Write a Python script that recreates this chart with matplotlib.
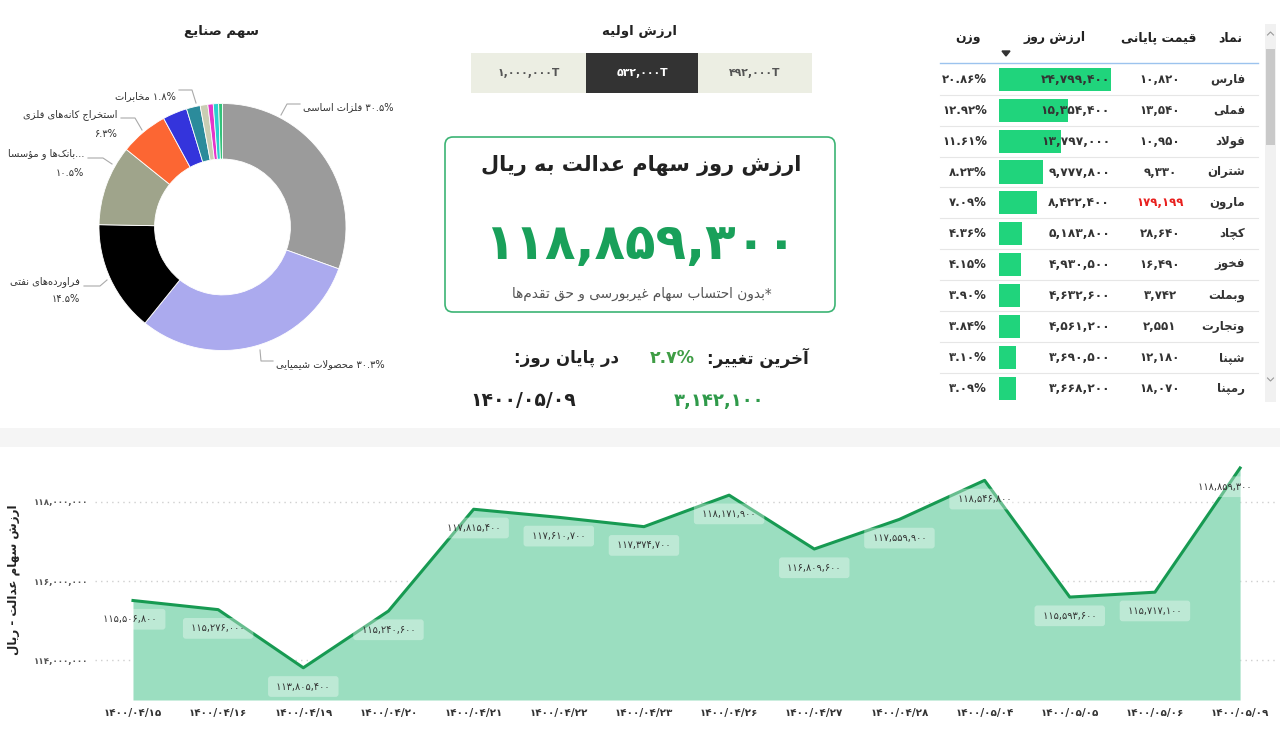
import matplotlib
matplotlib.use('Agg')
import matplotlib.pyplot as plt
from matplotlib.patches import Rectangle, FancyBboxPatch, Polygon

plt.rcParams['font.family'] = ['DejaVu Sans', 'Noto Sans']

# ---- small persian shaper + bidi, matplotlib draws glyphs one by one ----
DUAL = {'ئ': 0xFE89, 'ب': 0xFE8F, 'ت': 0xFE95, 'ث': 0xFE99, 'ج': 0xFE9D, 'ح': 0xFEA1,
        'خ': 0xFEA5, 'س': 0xFEB1, 'ش': 0xFEB5, 'ص': 0xFEB9, 'ض': 0xFEBD, 'ط': 0xFEC1,
        'ظ': 0xFEC5, 'ع': 0xFEC9, 'غ': 0xFECD, 'ف': 0xFED1, 'ق': 0xFED5, 'ك': 0xFED9,
        'ل': 0xFEDD, 'م': 0xFEE1, 'ن': 0xFEE5, 'ه': 0xFEE9, 'ي': 0xFEF1, 'پ': 0xFB56,
        'چ': 0xFB7A, 'ک': 0xFB8E, 'گ': 0xFB92, 'ی': 0xFBFC}
RIGHT = {'آ': 0xFE81, 'أ': 0xFE83, 'ؤ': 0xFE85, 'إ': 0xFE87, 'ا': 0xFE8D, 'ة': 0xFE93,
         'د': 0xFEA9, 'ذ': 0xFEAB, 'ر': 0xFEAD, 'ز': 0xFEAF, 'و': 0xFEED, 'ژ': 0xFB8A}
LAM_ALEF = {'ا': (0xFEFB, 0xFEFC), 'آ': (0xFEF5, 0xFEF6), 'أ': (0xFEF7, 0xFEF8), 'إ': (0xFEF9, 0xFEFA)}


def shape(s):
    out = []
    i = 0
    while i < len(s):
        c = s[i]
        prev = s[i-1] if i > 0 else ''
        nxt = s[i+1] if i+1 < len(s) else ''
        jp = prev in DUAL
        if c == 'ل' and nxt in LAM_ALEF:
            iso, fin = LAM_ALEF[nxt]
            out.append(chr(fin if jp else iso))
            i += 2
            continue
        if c in DUAL:
            jn = nxt in DUAL or nxt in RIGHT
            out.append(chr(DUAL[c] + (3 if jp and jn else 1 if jp else 2 if jn else 0)))
        elif c in RIGHT:
            out.append(chr(RIGHT[c] + (1 if jp else 0)))
        elif c != '\u200c':
            out.append(c)
        i += 1
    return ''.join(out)


def kind(ch):
    o = ord(ch)
    if ch.isdigit() or ch in '.,/%':
        return 'L'
    if 0x0600 <= o <= 0x06FF or 0xFB50 <= o <= 0xFDFF or 0xFE70 <= o <= 0xFEFF:
        return 'R'
    return 'N'


def fa(s):
    s = shape(s)
    runs = []
    for ch in s:
        k = kind(ch)
        if runs and runs[-1][0] == k and k != 'N':
            runs[-1][1] += ch
        else:
            runs.append([k, ch])
    return ''.join(t[::-1] if k == 'R' else t for k, t in reversed(runs))


def fd(s):
    return str(s).translate(str.maketrans('0123456789', '۰۱۲۳۴۵۶۷۸۹'))


# ---------------- data ----------------
sector_shares = [30.5, 30.3, 14.5, 10.5, 6.3, 3.2, 1.8, 1.0, 0.7, 0.7, 0.5]
sector_colors = ['#9b9b9b', '#abaaee', '#000000', '#9fa48b', '#fc6633', '#3434dc',
                 '#2b8b9b', '#c9cdb3', '#e535c9', '#2bcfcf', '#33c27a']

initial_values = ['1,000,000', '532,000', '492,000']

symbols = ['فارس', 'فملی', 'فولاد', 'شتران', 'مارون', 'کچاد', 'فخوز', 'وبملت', 'وتجارت', 'شپنا', 'رمپنا']
close_price = [10820, 13540, 10950, 9330, 179199, 28640, 16490, 3742, 2551, 12180, 18070]
day_value = [24799400, 15354400, 13797000, 9777800, 8422400, 5183800, 4930500, 4632600, 4561200, 3690500, 3668200]
weights = ['20.86', '12.92', '11.61', '8.23', '7.09', '4.36', '4.15', '3.90', '3.84', '3.10', '3.09']

dates = ['1400/04/15', '1400/04/16', '1400/04/19', '1400/04/20', '1400/04/21', '1400/04/22', '1400/04/23',
         '1400/04/26', '1400/04/27', '1400/04/28', '1400/05/04', '1400/05/05', '1400/05/06', '1400/05/09']
values = [115506800, 115276000, 113805400, 115240600, 117815400, 117610700, 117374700,
          118171900, 116809600, 117559900, 118546800, 115593600, 115717100, 118859300]
last_change = '2.7'
last_change_value = 3142100

# ---------------- figure ----------------
fig = plt.figure(figsize=(12.8, 7.36), dpi=100)
fig.patch.set_facecolor('white')
bg = fig.add_axes([0, 0, 1, 1])
bg.set_xlim(0, 1280)
bg.set_ylim(736, 0)
bg.axis('off')


def box(l, t, w, h):
    return [l / 1280, 1 - (t + h) / 736, w / 1280, h / 736]


bg.add_patch(Rectangle((0, 428), 1280, 19, color='#f5f5f5', lw=0))

# donut
bg.text(222, 31, fa('سهم صنایع'), ha='center', va='center', fontsize=9.6, fontweight='bold', color='#222')
axp = fig.add_axes(box(99, 103.5, 247, 247))
axp.pie(sector_shares, colors=sector_colors, startangle=90, counterclock=False, radius=1,
        wedgeprops=dict(width=0.45, edgecolor='white', linewidth=0.6))
axp.set_xlim(-1, 1)
axp.set_ylim(-1, 1)
axp.set_aspect('equal')

lc = '#aaaaaa'
lab = dict(fontsize=7.1, color='#333', va='center')
bg.plot([281, 287, 300], [115, 104, 104], color=lc, lw=0.8)
bg.text(303, 107, fa('%s%% فلزات اساسی' % fd('30.5')), ha='left', **lab)
bg.plot([260, 261, 273], [350, 361, 361], color=lc, lw=0.8)
bg.text(276, 364, fa('%s%% محصولات شیمیایی' % fd('30.3')), ha='left', **lab)
bg.plot([107, 100, 84], [280, 286, 286], color=lc, lw=0.8)
bg.text(80, 282, fa('فراورده‌های نفتی'), ha='right', **lab)
bg.text(80, 299, fd('14.5') + '%', ha='right', **lab)
bg.plot([112, 103, 88], [164, 158, 158], color=lc, lw=0.8)
bg.text(84, 154, fa('بانک‌ها و مؤسسا') + '...', ha='right', **lab)
bg.text(84, 173, fd('10.5') + '%', ha='right', **lab)
bg.plot([142, 135, 121], [130, 118, 118], color=lc, lw=0.8)
bg.text(117, 115, fa('استخراج کانه‌های فلزی'), ha='right', **lab)
bg.text(117, 134, fd('6.3') + '%', ha='right', **lab)
bg.plot([196, 192, 179], [103, 90, 90], color=lc, lw=0.8)
bg.text(176, 96, fa('%s%% مخابرات' % fd('1.8')), ha='right', **lab)

# initial value buttons
bg.text(640, 32, fa('ارزش اولیه'), ha='center', va='center', fontsize=9.6, fontweight='bold', color='#222')
edges = [471, 586, 698, 812]
for k, v in enumerate(initial_values):
    dark = k == 1
    bg.add_patch(Rectangle((edges[k], 53), edges[k+1] - edges[k], 40,
                           color='#333333' if dark else '#eceee3', lw=0))
    bg.text((edges[k] + edges[k+1]) / 2, 73, fd(v) + 'T', ha='center', va='center',
            fontsize=7.8, fontweight='bold', color='white' if dark else '#555')

# main value card
bg.add_patch(FancyBboxPatch((445, 137), 390, 175, boxstyle='round,pad=0,rounding_size=8',
                            fc='white', ec='#3cb474', lw=1.2))
bg.text(641, 166, fa('ارزش روز سهام عدالت به ریال'), ha='center', va='center',
        fontsize=15, fontweight='bold', color='#222')
bg.text(640, 245, fd(f'{values[-1]:,}'), ha='center', va='center',
        fontsize=36, fontweight='bold', color='#19a05a')
bg.text(642, 294, fa('*بدون احتساب سهام غیربورسی و حق تقدم‌ها'), ha='center', va='center',
        fontsize=9.8, color='#555')

bg.text(809, 358, fa('آخرین تغییر:'), ha='right', va='center', fontsize=12, fontweight='bold', color='#222')
bg.text(695, 358, fd(last_change) + '%', ha='right', va='center', fontsize=12.5, fontweight='bold', color='#3f9d45')
bg.text(619, 358, fa('در پایان روز:'), ha='right', va='center', fontsize=12, fontweight='bold', color='#222')
bg.text(470, 401, fd(dates[-1]), ha='left', va='center', fontsize=13.5, fontweight='bold', color='#222')
bg.text(719, 401, fd(f'{last_change_value:,}'), ha='center', va='center',
        fontsize=13, fontweight='bold', color='#2f9a4a')

# table
ytop, ybot = 63, 403
pitch, y0 = 30.9, 79.3
ylim = ((ybot - y0) / pitch, (ytop - y0) / pitch)
axt = fig.add_axes(box(938, ytop, 324, ybot - ytop))
axt.set_xlim(938, 1262)
axt.set_ylim(*ylim)
axt.axis('off')
axb = fig.add_axes(box(999, ytop, 112, ybot - ytop))
axb.set_xlim(0, max(day_value))
axb.set_ylim(*ylim)
axb.axis('off')
axb.barh(range(len(day_value)), day_value, height=0.745, color='#20d47c')

hdr = dict(ha='center', va='center', fontsize=9, fontweight='bold', color='#222')
bg.text(1230, 38, fa('نماد'), **hdr)
bg.text(1159, 38, fa('قیمت پایانی'), **hdr)
bg.text(1055, 38, fa('ارزش روز'), **hdr)
bg.text(968, 38, fa('وزن'), **hdr)
bg.add_patch(Polygon([(1002, 51), (1010, 51), (1006, 56)], color='#333'))
bg.plot([940, 1258], [62.7, 62.7], color='#9cc3ee', lw=1)

cell = dict(va='center', fontsize=8.5, fontweight='bold', color='#333', clip_on=True)
for i in range(len(symbols)):
    axt.text(1245, i, fa(symbols[i]), ha='right', **cell)
    axt.text(1160, i, fd(f'{close_price[i]:,}'), ha='center',
             **{**cell, 'color': '#e8211f' if close_price[i] > 100000 else '#333'})
    axt.text(1110, i, fd(f'{day_value[i]:,}'), ha='right', zorder=5, **{**cell, 'fontsize': 8.8})
    axt.text(987, i, fd(weights[i]) + '%', ha='right', **cell)
    axt.axhline(i + 0.5, xmin=2 / 324, xmax=320 / 324, color='#e6e6e6', lw=0.8)
axt.set_zorder(3)

# scrollbar
bg.add_patch(Rectangle((1265, 24), 11, 378, color='#f1f1f1', lw=0))
bg.add_patch(Rectangle((1266, 49), 9, 96, color='#c9c9c9', lw=0))
bg.plot([1267.5, 1270.5, 1273.5], [35, 32, 35], color='#999', lw=0.8)
bg.plot([1267.5, 1270.5, 1273.5], [378, 381, 378], color='#999', lw=0.8)

# bottom area chart
ax = fig.add_axes(box(95, 447, 1180, 253))
ax.set_facecolor('none')
x = list(range(len(values)))
ax.set_xlim(-0.446, 13.41)
ax.set_ylim(112.99e6, 119.39e6)
ax.fill_between(x, values, 112.99e6, color='#9bdec0', lw=0, zorder=2)
ax.plot(x, values, color='#179a52', lw=2.2, zorder=3)
ax.set_yticks([114e6, 116e6, 118e6])
ax.set_yticklabels([fd(f'{int(v):,}') for v in [114e6, 116e6, 118e6]], fontsize=6.3,
                   fontweight='bold', color='#555')
ax.set_xticks(x)
ax.set_xticklabels([fd(d) for d in dates], fontsize=7.5, fontweight='bold', color='#333')
ax.tick_params(length=0, pad=5)
ax.tick_params(axis='x', pad=6)
ax.yaxis.grid(True, linestyle=(0, (1, 3)), color='#cfcfcf', lw=1, zorder=1)
for s in ax.spines.values():
    s.set_visible(False)
ax.set_ylabel(fa('ارزش سهام عدالت - ریال'), fontsize=8.6, fontweight='bold', color='#222')
ax.yaxis.set_label_coords(-0.0636, 0.474)
for i, v in enumerate(values):
    dx = -11 if i == len(values) - 1 else (-2 if i == 0 else 0)
    ax.annotate(' ' + fd(f'{v:,}') + ' ', (i, v), xytext=(dx, -13.5), textcoords='offset points',
                ha='center', va='center', fontsize=7, color='#333', zorder=4,
                bbox=dict(boxstyle='round,pad=0.55,rounding_size=0.3', fc='white', ec='none', alpha=0.35))

fig.savefig('out.png', dpi=100)
